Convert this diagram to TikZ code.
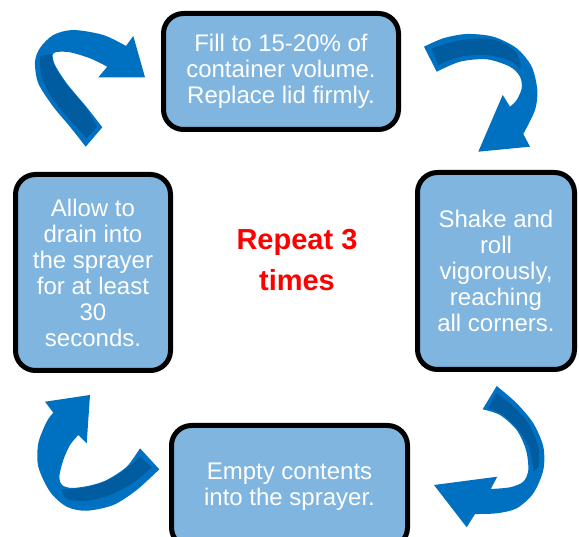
\documentclass[tikz,border=0pt]{standalone}
\usepackage{fontspec}
\setmainfont{Liberation Sans}
\definecolor{boxblue}{RGB}{127,181,222}
\definecolor{arrowblue}{RGB}{0,112,192}
\definecolor{arrowdark}{RGB}{0,92,158}

\begin{document}
\begin{tikzpicture}[x=1pt, y=-1pt,
  stepbox/.style={
    draw=black,
    fill=boxblue,
    line width=5pt,
    rounded corners=20pt,
    inner sep=0pt,
    align=center,
    text=white,
    font=\fontsize{24}{26}\selectfont
  }]

\useasboundingbox (0,0) rectangle (579,537);
\clip (0,0) rectangle (579,537);

\node[stepbox, minimum width=235pt, minimum height=116pt] (fill) at (281,71.5)
{Fill to 15-20\% of\\
 container volume.\\
 Replace lid firmly.};

\node[stepbox, minimum width=157pt, minimum height=197pt] (shake) at (496,271)
{Shake and\\ roll\\ vigorously,\\ reaching\\ all corners.};

\node[stepbox, minimum width=236pt, minimum height=122pt] (empty) at (289.5,486.5)
{Empty contents\\ into the sprayer.};

\node[stepbox, minimum width=155pt, minimum height=196pt] (drain) at (93,272.5)
{Allow to\\ drain into\\ the sprayer\\ for at least\\ 30\\ seconds.};

\node[text=red, align=center, font=\fontsize{29}{41}\selectfont\bfseries] (repeat) at (297,260)
{Repeat 3\\ times};

% top left arrow
\fill[arrowblue] (85.7,146.7) -- (102.3,127.3)
  -- plot[smooth] coordinates {(102.3,127.3) (86.7,107.3) (66.7,83.3) (55,65) (52.7,55) (56.7,52) (70,52.3) (90,58.3) (107.3,66.7)}
  -- (98.3,77.3) -- (145,77.3) -- (133.3,36) -- (126,46)
  -- plot[smooth] coordinates {(126,46) (103.3,35) (73.3,30) (53.3,35) (40,48) (35,62) (38.3,83.3) (53.3,106.7) (70,126.7) (85.7,146.7)}
  -- cycle;
\fill[arrowdark] (40,56) -- (51.7,54)
  -- plot[smooth] coordinates {(51.7,54) (54,65) (66,84) (86,108) (97,127)}
  -- (86.7,138.3)
  -- plot[smooth] coordinates {(86.7,138.3) (70,120) (53.3,100) (41.7,76.7) (40,56)}
  -- cycle;

% top right arrow
\fill[arrowblue] (424,46.7) -- (436.7,71.7)
  -- plot[smooth] coordinates {(436.7,71.7) (460,61.7) (486.7,59.3) (510,66.7) (520,76.7) (521.7,88.3) (516.7,100) (510,106.7)}
  -- (502.7,95) -- (478.3,151.7) -- (530,146.7) -- (523.3,134)
  -- plot[smooth] coordinates {(523.3,134) (535,110) (537.3,90) (531.7,66.7) (516.7,48.3) (493.3,36.7) (466.7,34) (443.3,38.3) (424,46.7)}
  -- cycle;
\fill[arrowdark] (438.3,65) -- (431.7,48.3)
  -- plot[smooth] coordinates {(431.7,48.3) (456.7,41) (483.3,38.3) (503.3,42.7) (516,52.7) (520.7,63.3)}
  -- (520,70)
  -- plot[smooth] coordinates {(520,70) (510,60.7) (486.7,55) (460,56.7) (438.3,65)}
  -- cycle;

% bottom right arrow
\fill[arrowblue] (496.7,386)
  -- plot[smooth] coordinates {(496.7,386) (516.7,403.3) (533.3,423.3) (543.3,446.7) (543.3,470) (533.3,493.3) (516.7,508.3) (496.7,513.3) (475,514)}
  -- (466.7,527.3) -- (434,485) -- (497.3,476.7) -- (490.7,489)
  -- plot[smooth] coordinates {(490.7,489) (510,487.3) (523.3,481.7) (528.3,470) (526,450) (516.7,430) (500,415) (482.7,409.3)}
  -- cycle;
\fill[arrowdark] (488.3,408.3) -- (496,392.7)
  -- plot[smooth] coordinates {(496,392.7) (511.7,405) (528.3,423.3) (538.3,446.7) (538.3,466.7)}
  -- (533.3,471.7)
  -- plot[smooth] coordinates {(533.3,471.7) (530,450) (520,431.7) (503.3,415) (488.3,408.3)}
  -- cycle;

% bottom left arrow
\fill[arrowblue] (140,448.3) -- (159.3,469.3)
  -- plot[smooth] coordinates {(159.3,469.3) (136.7,490) (113.3,505) (86.7,510.7) (66.7,506.7) (50,491.7) (38.3,466.7) (38.3,443.3) (46.7,421.7) (53.3,412.7)}
  -- (45,401.7) -- (90,395) -- (86.7,443.3) -- (78.3,435)
  -- plot[smooth] coordinates {(78.3,435) (70,445) (63.3,460) (59.3,476.7) (62,485) (72,488) (90,485.5) (106.7,480) (126.7,466.7) (140,448.3)}
  -- cycle;
\fill[arrowdark] (61.7,489.3)
  -- plot[smooth] coordinates {(61.7,489.3) (86.7,487.3) (110,479.3) (130,466) (140,456.7)}
  -- (151.7,467.3)
  -- plot[smooth] coordinates {(151.7,467.3) (133.3,482.7) (110,495) (86.7,500.7) (66.7,498.7) (61.7,489.3)}
  -- cycle;

\end{tikzpicture}
\end{document}
